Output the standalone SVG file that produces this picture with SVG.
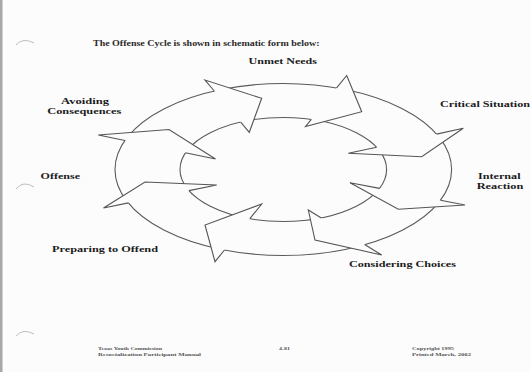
<svg xmlns="http://www.w3.org/2000/svg" width="530" height="372" viewBox="0 0 530 372">
<style>
.bg{fill:#fcfcfc}
.lbl{font-family:"Liberation Serif","Times New Roman",serif;font-weight:bold;font-size:9px;fill:#1c1c1c}
.lbl2{font-family:"Liberation Serif","Times New Roman",serif;font-weight:bold;font-size:8.4px;fill:#1c1c1c}
.hdr{font-family:"Liberation Serif","Times New Roman",serif;font-weight:bold;font-size:8.2px;fill:#2a2a2a}
.ftr{font-family:"Liberation Serif","Times New Roman",serif;font-weight:bold;font-size:4.8px;fill:#555}
.ring{fill:none;stroke:#5a5a5a;stroke-width:1.1}
.head{fill:#fcfcfc;stroke:none}
.edge{fill:none;stroke:#555;stroke-width:1.1;stroke-linejoin:miter}
.hole{fill:none;stroke:#bdbdbd;stroke-width:1}
</style>
<rect class="bg" x="0" y="0" width="530" height="372"/>
<rect x="0" y="0" width="2.5" height="372" fill="#a8a8a8"/>
<g id="binder-holes">
<path class="hole" d="M16,45 Q23,37 34,43"/>
<path class="hole" d="M16,189 Q23,180 34,187"/>
<path class="hole" d="M16,336 Q23,328 34,334"/>
</g>
<g id="title">
<text class="hdr" x="93" y="45.5" textLength="226.5" lengthAdjust="spacingAndGlyphs">The Offense Cycle is shown in schematic form below:</text>
</g>
<g id="connectors">
<ellipse class="ring" cx="283.3" cy="169.5" rx="168.3" ry="86"/>
<ellipse class="ring" cx="283.3" cy="169.5" rx="103.3" ry="52"/>
<g id="arrow-a">
<polygon class="head" points="205,80 261.7,98.3 249.3,132.3"/>
<polyline class="edge" points="214.3,91 205,80 261.7,98.3 249.3,132.3 240.7,122.2"/>
</g>
<g id="arrow-b">
<polygon class="head" points="346.7,75.5 361.7,111.7 305.5,126.5"/>
<polyline class="edge" points="336.6,87.9 346.7,75.5 361.7,111.7 305.5,126.5 311.3,119.4"/>
</g>
<g id="arrow-c">
<polygon class="head" points="463.3,128.3 421.7,156.7 348.3,153.3"/>
<polyline class="edge" points="436.6,134.1 463.3,128.3 421.7,156.7 348.3,153.3 376.6,147.2"/>
</g>
<g id="arrow-d">
<polygon class="head" points="465,205 398.3,209.3 350,182.7"/>
<polyline class="edge" points="440.5,200.2 465,205 398.3,209.3 350,182.7 379.6,188.4"/>
</g>
<g id="arrow-e">
<polygon class="head" points="381.7,255 315,240 308.3,210"/>
<polyline class="edge" points="365,244.7 381.7,255 315,240 308.3,210 321.3,218"/>
</g>
<g id="arrow-f">
<polygon class="head" points="215,261.7 205,225 261.7,204"/>
<polyline class="edge" points="224.5,250 215,261.7 205,225 261.7,204 249.8,218.7"/>
</g>
<g id="arrow-g">
<polygon class="head" points="103.5,208 145,182 216.7,185"/>
<polyline class="edge" points="128.4,202.9 103.5,208 145,182 216.7,185 189,190.6"/>
</g>
<g id="arrow-h">
<polygon class="head" points="98.3,135 169,129.5 215.5,159"/>
<polyline class="edge" points="125,140.5 98.3,135 169,129.5 215.5,159 185.4,152.8"/>
</g>
</g>
<g id="node-unmet-needs">
<text class="lbl" x="248.5" y="64" textLength="68.5" lengthAdjust="spacingAndGlyphs">Unmet Needs</text>
</g>
<g id="node-critical-situation">
<text class="lbl" x="440" y="106.5" textLength="90" lengthAdjust="spacingAndGlyphs">Critical Situation</text>
</g>
<g id="node-internal-reaction">
<text class="lbl2" x="478" y="178.5" textLength="42.5" lengthAdjust="spacingAndGlyphs">Internal</text>
<text class="lbl2" x="476.7" y="188.5" textLength="46.6" lengthAdjust="spacingAndGlyphs">Reaction</text>
</g>
<g id="node-considering-choices">
<text class="lbl" x="349" y="267" textLength="107" lengthAdjust="spacingAndGlyphs">Considering Choices</text>
</g>
<g id="node-preparing-to-offend">
<text class="lbl" x="52" y="252" textLength="106" lengthAdjust="spacingAndGlyphs">Preparing to Offend</text>
</g>
<g id="node-offense">
<text class="lbl" x="40.6" y="178.5" textLength="39.4" lengthAdjust="spacingAndGlyphs">Offense</text>
</g>
<g id="node-avoiding-consequences">
<text class="lbl2" x="61" y="103.5" textLength="48" lengthAdjust="spacingAndGlyphs">Avoiding</text>
<text class="lbl2" x="47.3" y="113.5" textLength="74" lengthAdjust="spacingAndGlyphs">Consequences</text>
</g>
<g id="footer">
<text class="ftr" x="98" y="350" textLength="64" lengthAdjust="spacingAndGlyphs">Texas Youth Commission</text>
<text class="ftr" x="98" y="355.5" textLength="103" lengthAdjust="spacingAndGlyphs">Resocialization Participant Manual</text>
<text class="ftr" x="279" y="350" textLength="11" lengthAdjust="spacingAndGlyphs">4-81</text>
<text class="ftr" x="412" y="350" textLength="42" lengthAdjust="spacingAndGlyphs">Copyright 1995</text>
<text class="ftr" x="412" y="355.5" textLength="59" lengthAdjust="spacingAndGlyphs">Printed March, 2002</text>
</g>
</svg>
